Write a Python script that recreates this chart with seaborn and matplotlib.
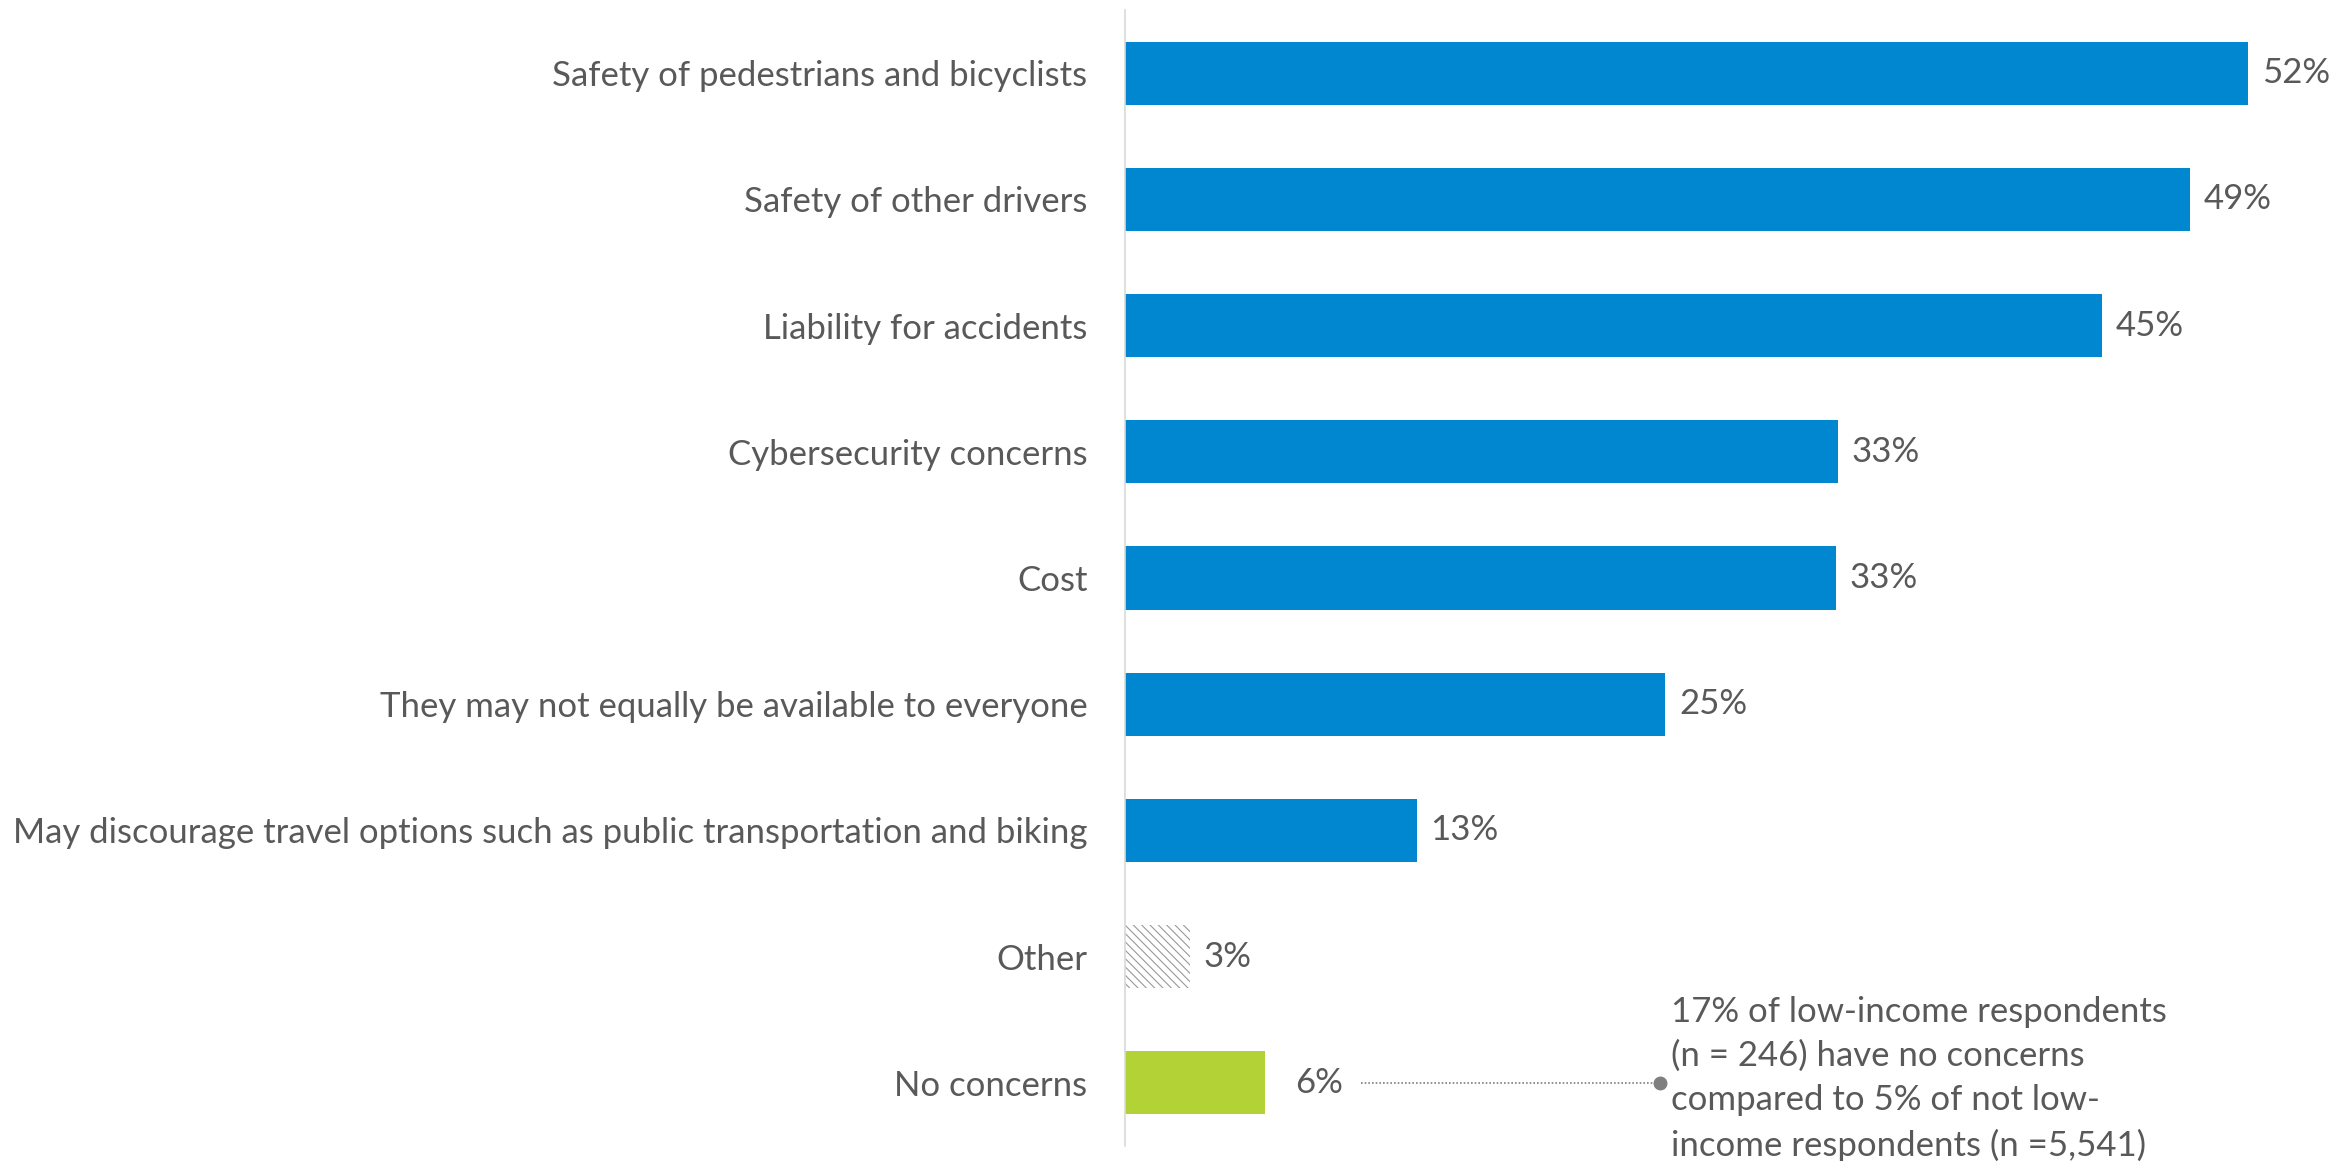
import matplotlib
matplotlib.use("Agg")
import matplotlib.pyplot as plt
import seaborn as sns
import pandas as pd
from matplotlib.lines import Line2D

categories = [
    "Safety of pedestrians and bicyclists",
    "Safety of other drivers",
    "Liability for accidents",
    "Cybersecurity concerns",
    "Cost",
    "They may not equally be available to everyone",
    "May discourage travel options such as public transportation and biking",
    "Other",
    "No concerns",
]
values = [52.0, 49.3, 45.2, 33.0, 32.9, 25.0, 13.5, 3.0, 6.5]
value_labels = ["52%", "49%", "45%", "33%", "33%", "25%", "13%", "3%", "6%"]
annotation_text = ("17% of low-income respondents\n(n = 246) have no concerns\n"
                   "compared to 5% of not low-\nincome respondents (n =5,541)")

BLUE = "#0087CF"
GREEN = "#B2D235"
GRAY_TXT = "#595959"
bar_colors = [BLUE] * 7 + ["white", GREEN]
FS = 25

sns.set_theme(style="white")
plt.rcParams["font.family"] = ["Lato", "DejaVu Sans"]
plt.rcParams["hatch.linewidth"] = 0.8
plt.rcParams["hatch.color"] = "#9A9A9A"

df = pd.DataFrame({"category": categories, "value": values})

fig = plt.figure(figsize=(23.39, 11.61), dpi=100)
ax = fig.add_axes([0.481, 0.0129, 0.508, 0.9785])

sns.barplot(data=df, x="value", y="category", hue="category", palette=bar_colors,
            legend=False, width=0.5, ax=ax, saturation=1, edgecolor="none")

other_idx = categories.index("Other")
for patch in ax.patches:
    y_center = patch.get_y() + patch.get_height() / 2
    if abs(y_center - other_idx) < 0.01:
        patch.set_facecolor("white")
        patch.set_hatch("\\\\\\\\")
        patch.set_edgecolor("#9A9A9A")
        patch.set_linewidth(0)

ax.set_xlim(0, 55)
ax.set_ylim(len(categories) - 0.5, -0.5)
ax.set_xlabel("")
ax.set_ylabel("")
ax.set_xticks([])
for s in ["top", "right", "bottom"]:
    ax.spines[s].set_visible(False)
ax.spines["left"].set_color("#D9D9D9")
ax.spines["left"].set_linewidth(1.2)
ax.tick_params(axis="y", length=0, pad=27, labelsize=FS, labelcolor=GRAY_TXT)

nc_idx = categories.index("No concerns")
for i, (v, lab) in enumerate(zip(values, value_labels)):
    off = 21 if i == nc_idx else 10
    ax.annotate(lab, xy=(v, i), xytext=(off, 0), textcoords="offset points",
                va="center", ha="left", fontsize=FS, color=GRAY_TXT)

# callout for "No concerns"
v = values[nc_idx]
line_start_pts = 69
line_end_pts = 284
anchor = ax.transData.transform((v, nc_idx))
inv = fig.transFigure.inverted()
p0 = inv.transform((anchor[0] + line_start_pts * fig.dpi / 72, anchor[1]))
p1 = inv.transform((anchor[0] + line_end_pts * fig.dpi / 72, anchor[1]))
fig.add_artist(Line2D([p0[0], p1[0]], [p0[1], p1[1]], color="#7F7F7F", lw=1.2,
                      linestyle=(0, (1, 1.2)), transform=fig.transFigure))
fig.add_artist(Line2D([p1[0]], [p1[1]], marker="o", markersize=9, color="#7F7F7F",
                      transform=fig.transFigure))
ax.annotate(annotation_text, xy=(v, nc_idx), xytext=(line_end_pts + 8, 3),
            textcoords="offset points", va="center", ha="left", fontsize=FS,
            color=GRAY_TXT, linespacing=1.46, annotation_clip=False)

fig.savefig("out.png", dpi=100)
